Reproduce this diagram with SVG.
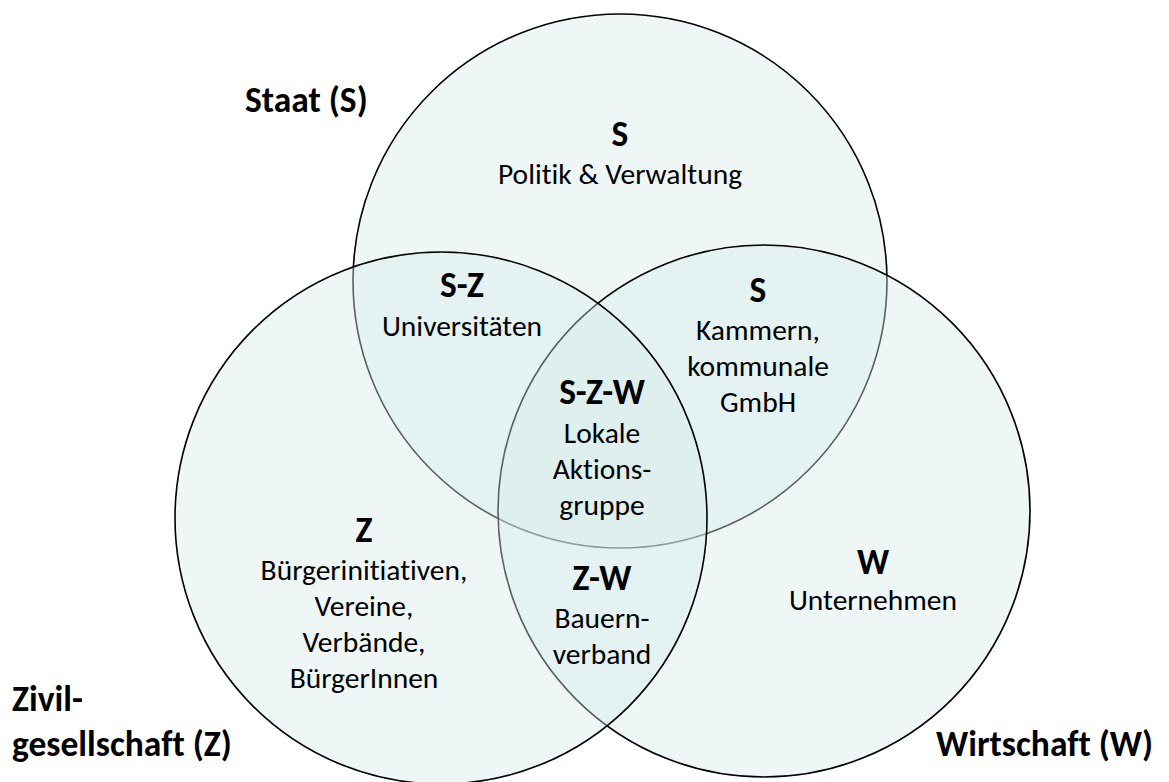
<svg xmlns="http://www.w3.org/2000/svg" width="1169" height="782" viewBox="0 0 1169 782">
<style>
.c{fill:rgb(214,236,233);fill-opacity:0.41;stroke:#000;stroke-width:1.6}
text{font-family:Carlito,Lato,"Open Sans",sans-serif;fill:#000;font-variant-ligatures:none}
.h{font-size:35.5px;font-weight:bold;text-anchor:middle}
.b{font-size:29.5px;text-anchor:middle}
.L{font-size:35.5px;font-weight:bold}
</style>
<rect width="1169" height="782" fill="#fff"/>
<g id="circle-staat"><circle class="c" cx="620" cy="281" r="267"/></g>
<g id="circle-wirtschaft"><circle class="c" cx="764" cy="511" r="266"/></g>
<g id="circle-zivil"><circle class="c" cx="441" cy="518" r="266"/></g>
<g id="label-staat"><text class="L" x="245" y="112">Staat (S)</text></g>
<g id="label-zivil"><text class="L" x="12" y="711">Zivil-</text><text class="L" x="12" y="756">gesellschaft (Z)</text></g>
<g id="label-wirtschaft"><text class="L" x="936" y="756">Wirtschaft (W)</text></g>
<g id="region-s"><text class="h" x="620" y="146">S</text><text class="b" x="620" y="184">Politik &amp; Verwaltung</text></g>
<g id="region-sz"><text class="h" x="462" y="297">S-Z</text><text class="b" x="462" y="336">Universitäten</text></g>
<g id="region-sw"><text class="h" x="758" y="302">S</text><text class="b" x="758" y="340">Kammern,</text><text class="b" x="758" y="376">kommunale</text><text class="b" x="758" y="412">GmbH</text></g>
<g id="region-szw"><text class="h" x="602" y="404">S-Z-W</text><text class="b" x="602" y="443">Lokale</text><text class="b" x="602" y="479">Aktions-</text><text class="b" x="602" y="515">gruppe</text></g>
<g id="region-z"><text class="h" x="364" y="542">Z</text><text class="b" x="364" y="580">Bürgerinitiativen,</text><text class="b" x="364" y="616">Vereine,</text><text class="b" x="364" y="652">Verbände,</text><text class="b" x="364" y="688">BürgerInnen</text></g>
<g id="region-zw"><text class="h" x="602" y="590">Z-W</text><text class="b" x="602" y="628">Bauern-</text><text class="b" x="602" y="664">verband</text></g>
<g id="region-w"><text class="h" x="873" y="574">W</text><text class="b" x="873" y="610">Unternehmen</text></g>
</svg>
